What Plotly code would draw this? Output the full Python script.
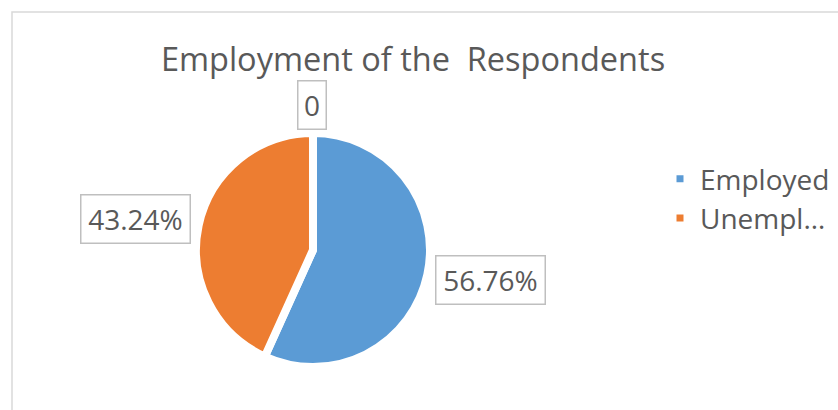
# Employment of the Respondents - pie chart
import plotly.graph_objects as go

# Data
labels = ['Employed', 'Unempl…']
values = [56.76, 43.24]
colors = ['#5b9bd5', '#ed7d31']
label_texts = ['56.76%', '43.24%', '0']

text_color = '#595959'
font_family = 'Open Sans, Noto Sans, sans-serif'

fig = go.Figure()
fig.add_trace(go.Pie(
    labels=labels,
    values=values,
    sort=False,
    direction='clockwise',
    rotation=0,
    textinfo='none',
    hoverinfo='label+percent',
    marker=dict(colors=colors, line=dict(color='white', width=8)),
    domain=dict(x=[0.2339, 0.5131], y=[0.1049, 0.6756]),
))

# Callout style data labels (boxes)
label_pos = [(490, 280), (135, 219), (312, 105)]
label_w = [100, 100, 19]
for txt, (px_, py_), w in zip(label_texts, label_pos, label_w):
    fig.add_annotation(
        x=px_ / 838, y=1 - py_ / 410, xref='paper', yref='paper',
        xanchor='center', yanchor='middle',
        text=txt, showarrow=False, width=w, height=39,
        font=dict(family=font_family, size=28, color=text_color),
        bordercolor='#bfbfbf', borderwidth=1.5, borderpad=4,
        bgcolor='white',
    )

# Chart area border
fig.add_shape(type='rect', xref='paper', yref='paper',
              x0=12 / 838, x1=1.02, y0=-0.02, y1=1 - 12 / 410,
              line=dict(color='#d9d9d9', width=1.5))

fig.update_layout(
    width=838, height=410,
    margin=dict(l=0, r=0, t=0, b=0),
    paper_bgcolor='white',
    plot_bgcolor='white',
    title=dict(text='Employment of the  Respondents',
               x=413 / 838, xanchor='center',
               y=1 - 60 / 410, yanchor='middle',
               font=dict(family=font_family, size=32.5, color=text_color)),
    legend=dict(x=660 / 838, xanchor='left', y=1 - 154 / 410, yanchor='top',
                font=dict(family=font_family, size=28, color=text_color),
                bgcolor='rgba(0,0,0,0)'),
    showlegend=True,
)

fig.write_html('out.html', config={'displayModeBar': False},
               post_script="document.body.style.margin='0';")
